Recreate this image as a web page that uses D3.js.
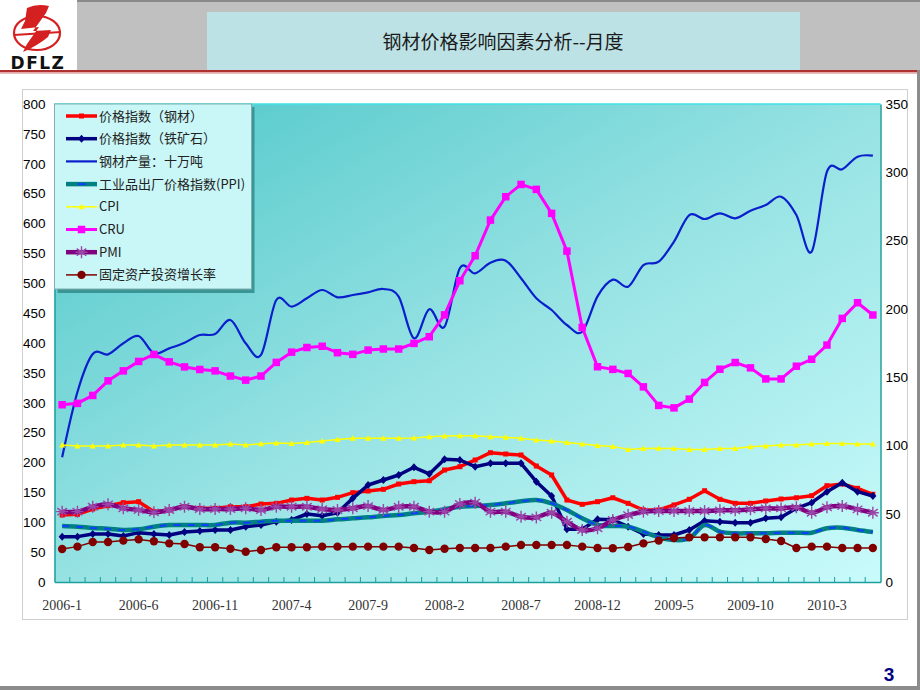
<!DOCTYPE html>
<html><head><meta charset="utf-8">
<script src="https://cdn.jsdelivr.net/npm/d3@7"></script>
<style>body{margin:0;background:#fff}svg{display:block}</style>
</head><body><svg id="c" width="920" height="690"></svg>
<script>
const categories = ["2006-1","2006-2","2006-3","2006-4","2006-5","2006-6","2006-7","2006-8","2006-9","2006-10","2006-11","2006-12",
"2007-1","2007-2","2007-3","2007-4","2007-5","2007-6","2007-7","2007-8","2007-9","2007-10","2007-11","2007-12",
"2008-1","2008-2","2008-3","2008-4","2008-5","2008-6","2008-7","2008-8","2008-9","2008-10","2008-11","2008-12",
"2009-1","2009-2","2009-3","2009-4","2009-5","2009-6","2009-7","2009-8","2009-9","2009-10","2009-11","2009-12",
"2010-1","2010-2","2010-3","2010-4","2010-5","2010-6"];
const xTickLabels = ["2006-1","2006-6","2006-11","2007-4","2007-9","2008-2","2008-7","2008-12","2009-5","2009-10","2010-3"];
const leftTicks = [0,50,100,150,200,250,300,350,400,450,500,550,600,650,700,750,800];
const rightTicks = [0,50,100,150,200,250,300,350];

// left axis series
const steelPrice = [112.1,113.2,122.2,127.7,132.8,134.4,117.7,120.5,126,123.3,123.3,126,126,130.5,131.6,137.2,140,137.2,
141.7,149.5,152.3,155.1,164,167.9,169.5,187.4,193,204.2,216.4,214.2,212.6,194.1,179.1,137.2,130,134.4,141,
131.7,120.5,120.5,128.9,138.4,152.8,138.4,131.7,131.7,135.6,138.9,141,144.4,161.2,164,156.8,146.8];
const ironOre = [75.9,75.9,80.3,80.3,77,82.6,80.3,78.7,83.7,85.4,87,87,92.6,95.4,101,103.8,113.8,111,
116,140,162.3,170.7,179.1,192,180.8,205.4,204.2,193,198.6,198.6,198.6,167.9,143.9,88.2,88.2,104.9,104,
92.6,80.3,78.7,78.7,87,102.6,101,99.3,99.3,106.6,108.3,123.3,132.8,151.2,166.2,151.2,143.9];
const steelOutput = [208.7,318,381.6,381,399.5,411.7,382.7,391,400.5,413.4,415,438.5,399.5,380,472,460.8,474.8,488.7,
476.5,480.3,484.8,490.4,477.5,407.8,456.4,427.3,525,516.6,534.4,537.8,508.3,474.8,455.2,430.1,418.9,478,506,
494.3,530.5,536,569.6,614.2,607.5,617,608.7,621.4,631,644.9,614.2,552.8,686.7,690.7,711.8,713.5];
const ppi = [93.7,92.6,90.4,89.3,87,88.2,92.6,95.4,95.4,95.4,95.4,99.3,99.3,101,102.6,102.6,102.6,102.6,
104.9,106.6,108.3,110.5,112.1,115,117.7,121.7,126,127.2,128.9,131.7,135,137.2,131.7,120.5,106.6,95.4,93.7,
92.6,84.2,74.8,70.3,73.1,95.4,84.2,81.5,81.5,81.5,82.5,82.5,82.5,89.9,90.9,87,83.7];
// right axis series
const cpi = [100.3,99.6,99.6,99.6,100.3,100.3,99.6,100.3,100.3,100.3,100.3,101,100.3,101.2,101.8,101.5,102.2,103.2,
104.4,105.2,105.2,105.2,105.2,105.4,106.4,106.9,107.1,107.1,106.4,105.9,105.2,104,103.2,102.2,101,99.9,99.3,
97.1,97.8,98,97.8,97.1,97.1,97.8,97.8,99.1,99.6,100.3,100.3,101,101.5,101.5,101,101];
const cru = [129.8,130.8,136.6,147.3,154.6,161.5,166.6,161.2,157.5,155.6,154.6,150.8,147.8,150.8,160.8,168.3,171.7,172.6,
167.9,166.7,169.8,170.6,170.6,174.7,179.6,195.6,220.6,238.9,265,282.1,291.1,287.5,269.9,242.3,186.4,157.6,155.7,
152.7,142.9,129.3,127.5,133.9,146.1,155.8,160.7,156.8,148.7,148.7,158,163.1,173.5,193,204.5,195.5];
const pmi = [51.5,51.5,55.1,56.9,54,52.7,51,52.7,55.1,53.4,53.4,53.4,54,52.7,55.1,55.1,55.1,53.4,
52.7,54,55.6,52.7,55.1,55.1,51.5,51.5,57.1,58.1,51.5,51.5,47.8,47.3,50.7,44.1,38.1,39.3,45.4,
49,51.5,52,52,52,52,52.5,52.5,53.2,53.9,53.9,54.7,50.7,54.7,55.6,53.2,50.7];
const fai = [24.2,25.9,29.3,29.3,30.3,31.2,29.8,28.3,27.8,25.4,25.4,24.4,22.2,23.4,25.4,25.4,25.4,25.9,
25.9,25.9,25.9,25.9,25.9,24.9,23.4,24.4,24.9,24.9,24.9,25.9,27.1,27.1,27.1,27.1,25.9,24.9,24.7,
25.6,28.3,30.3,32.2,32.7,32.7,32.7,32.7,32.7,31.5,30,24.9,25.9,25.9,24.9,24.9,24.9];

const seriesNames = ["价格指数（钢材）","价格指数（铁矿石）","钢材产量：十万吨","工业品出厂价格指数(PPI)","CPI","CRU","PMI","固定资产投资增长率"];

const svg = d3.select("#c");
const defs = svg.append("defs");
const pg = defs.append("linearGradient").attr("id","pg").attr("x1",0).attr("y1",0).attr("x2",1).attr("y2",1);
pg.append("stop").attr("offset","0%").attr("stop-color","#4cc6c8");
pg.append("stop").attr("offset","50%").attr("stop-color","#96e2e3");
pg.append("stop").attr("offset","100%").attr("stop-color","#c9fbfb");

// slide chrome
svg.append("rect").attr("x",77).attr("y",0).attr("width",843).attr("height",71).attr("fill","#c0c0c0");
svg.append("rect").attr("x",77).attr("y",0).attr("width",843).attr("height",2).attr("fill","#8a8a8a");
svg.append("rect").attr("x",207).attr("y",12).attr("width",593).attr("height",59).attr("fill","#bde2e5");
svg.append("text").attr("x",503).attr("y",49).attr("text-anchor","middle")
  .attr("font-family","'Noto Sans CJK SC'").attr("font-size",19).attr("fill","#1a1a1a").text("钢材价格影响因素分析--月度");
svg.append("rect").attr("x",0).attr("y",70).attr("width",920).attr("height",2.5).attr("fill","#b03030");
svg.append("rect").attr("x",0).attr("y",72.5).attr("width",920).attr("height",1.5).attr("fill","#eab9b9");
svg.append("rect").attr("x",917).attr("y",70).attr("width",3).attr("height",620).attr("fill","#8c8c8c");
svg.append("rect").attr("x",0).attr("y",686).attr("width",920).attr("height",4).attr("fill","#8c8c8c");

// logo
const logo = svg.append("g");
logo.append("ellipse").attr("cx",37).attr("cy",33).attr("rx",23).attr("ry",17).attr("fill","none").attr("stroke","#d42020").attr("stroke-width",2.2);
logo.append("path").attr("d","M27,8 Q37,3 49,6 L46,13 L33,31 L51,30 L48,37 Q37,46 23,52 L27,44 L39,27 L21,29 L25,21 Z").attr("fill","#d42020");
logo.append("path").attr("d","M14,35 L61,32").attr("stroke","#d42020").attr("stroke-width",2);
logo.append("text").attr("x",38).attr("y",69).attr("text-anchor","middle").attr("font-family","'DejaVu Sans'")
  .attr("font-weight","bold").attr("font-size",17).attr("letter-spacing",1.5).attr("fill","#111").text("DFLZ");

// chart frame
svg.append("rect").attr("x",22.5).attr("y",89.5).attr("width",885).attr("height",530).attr("fill","#fff").attr("stroke","#cfcfcf");

const L = 54.5, R = 880.5, T = 104, B = 582;
const x = d3.scaleBand().domain(categories).range([L,R]).padding(0);
const cx = c => x(c) + x.bandwidth()/2;
const yL = d3.scaleLinear().domain([0,800]).range([B,T]);
const yR = d3.scaleLinear().domain([0,350]).range([B,T]);

svg.append("rect").attr("x",L).attr("y",T).attr("width",R-L).attr("height",B-T).attr("fill","url(#pg)");
svg.append("line").attr("x1",L).attr("x2",R).attr("y1",T).attr("y2",T).attr("stroke","#3fe3e6").attr("stroke-width",1.5);

// axes
const fontNum = "'Liberation Sans', Arial, sans-serif";
const ax1 = svg.append("g").attr("transform",`translate(${L},0)`).call(d3.axisLeft(yL).tickValues(leftTicks).tickSize(0).tickPadding(9));
const ax2 = svg.append("g").attr("transform",`translate(${R},0)`).call(d3.axisRight(yR).tickValues(rightTicks).tickSize(0).tickPadding(5));
const ax3 = svg.append("g").attr("transform",`translate(0,${B})`).call(d3.axisBottom(x).tickValues(xTickLabels).tickSize(0).tickPadding(18));
[ax1,ax2].forEach(a=>{a.selectAll("text").attr("font-family",fontNum).attr("font-size",13.5).attr("fill","#000");});
ax3.selectAll("text").attr("font-family","'Liberation Serif', serif").attr("font-size",14).attr("fill","#333");
[ax1,ax2,ax3].forEach(a=>a.select(".domain").attr("stroke","#1f9e9e").attr("stroke-width",1.5));
svg.append("g").selectAll("line").data(categories.slice(1)).join("line")
  .attr("x1",d=>x(d)).attr("x2",d=>x(d)).attr("y1",B).attr("y2",B-5).attr("stroke","#1f9e9e").attr("stroke-width",1);

// series definitions
const asterisk = s => `M0,${-s}L0,${s}M${-s*0.8},${-s*0.6}L${s*0.8},${s*0.6}M${-s*0.8},${s*0.6}L${s*0.8},${-s*0.6}M${-s},0L${s},0`;
const series = [
  {name:seriesNames[0], values:steelPrice, y:yL, color:"#ff0000", width:3.5, curve:d3.curveLinear, marker:{type:"square",size:5,fill:"#ff0000"}},
  {name:seriesNames[1], values:ironOre, y:yL, color:"#000080", width:3.5, curve:d3.curveLinear, marker:{type:"diamond",size:7,fill:"#000080"}},
  {name:seriesNames[2], values:steelOutput, y:yL, color:"#0a1fcc", width:2.2, curve:d3.curveCardinal.tension(0), marker:null},
  {name:seriesNames[3], values:ppi, y:yL, color:"#008080", width:4.5, curve:d3.curveCardinal.tension(0), marker:null, dash:"#1040ff"},
  {name:seriesNames[4], values:cpi, y:yR, color:"#ffff00", width:1.5, curve:d3.curveLinear, marker:{type:"triangle",size:5,fill:"#ffff00"}},
  {name:seriesNames[5], values:cru, y:yR, color:"#ff00ff", width:3, curve:d3.curveLinear, marker:{type:"square",size:7.5,fill:"#ff00ff"}},
  {name:seriesNames[6], values:pmi, y:yR, color:"#800080", width:4.5, curve:d3.curveCardinal.tension(0), marker:{type:"asterisk",size:6,stroke:"#9a45a8"}},
  {name:seriesNames[7], values:fai, y:yR, color:"#800000", width:1.5, curve:d3.curveLinear, marker:{type:"circle",size:4.2,fill:"#800000"}}
];

function markerPath(m){
  const s=m.size/2;
  if(m.type==="square") return `M${-s},${-s}h${m.size}v${m.size}h${-m.size}Z`;
  if(m.type==="diamond") return `M0,${-s-0.5}L${s},0L0,${s+0.5}L${-s},0Z`;
  if(m.type==="triangle") return `M0,${-s-0.5}L${s+0.5},${s}L${-s-0.5},${s}Z`;
  if(m.type==="circle") return d3.symbol(d3.symbolCircle, Math.PI*m.size*m.size)();
  if(m.type==="asterisk") return asterisk(m.size);
}
function drawMarker(g, m){
  const p = g.append("path").attr("d",markerPath(m));
  if(m.type==="asterisk") p.attr("fill","none").attr("stroke",m.stroke).attr("stroke-width",1.4);
  else p.attr("fill",m.fill);
}

const plot = svg.append("g");
series.forEach(s=>{
  const line = d3.line().x((d,i)=>cx(categories[i])).y(d=>s.y(d)).curve(s.curve);
  plot.append("path").attr("d",line(s.values)).attr("fill","none").attr("stroke",s.color).attr("stroke-width",s.width).attr("stroke-linejoin","round");
  if(s.dash) plot.append("path").attr("d",line(s.values)).attr("fill","none").attr("stroke",s.dash).attr("stroke-width",2).attr("stroke-dasharray","7,7");
  if(s.marker){
    s.values.forEach((v,i)=>{
      const g = plot.append("g").attr("transform",`translate(${cx(categories[i])},${s.y(v)})`);
      drawMarker(g, s.marker);
    });
  }
});

// legend
const lg = svg.append("g");
lg.append("rect").attr("x",L+3).attr("y",T+3).attr("width",197).attr("height",186).attr("fill","#3b9595");
lg.append("rect").attr("x",L).attr("y",T).attr("width",197).attr("height",185).attr("fill","#c9f6f6").attr("stroke","#7fb0b0").attr("stroke-width",1);
series.forEach((s,k)=>{
  const yy = T + 12 + k*22.7;
  lg.append("line").attr("x1",66).attr("x2",97).attr("y1",yy).attr("y2",yy).attr("stroke",s.color).attr("stroke-width",s.width);
  if(s.dash) lg.append("line").attr("x1",78).attr("x2",86).attr("y1",yy).attr("y2",yy).attr("stroke",s.dash).attr("stroke-width",2);
  if(s.marker){ const g = lg.append("g").attr("transform",`translate(81.5,${yy})`); drawMarker(g, s.marker); }
  lg.append("text").attr("x",99).attr("y",yy+4.5).attr("font-family","'Noto Sans CJK SC', 'Liberation Serif'").attr("font-size",13).attr("fill","#222").text(s.name);
});

// page number
svg.append("text").attr("x",889).attr("y",681).attr("text-anchor","middle").attr("font-family",fontNum).attr("font-weight","bold")
  .attr("font-size",19).attr("fill","#000080").text("3");
</script>
</body></html>
